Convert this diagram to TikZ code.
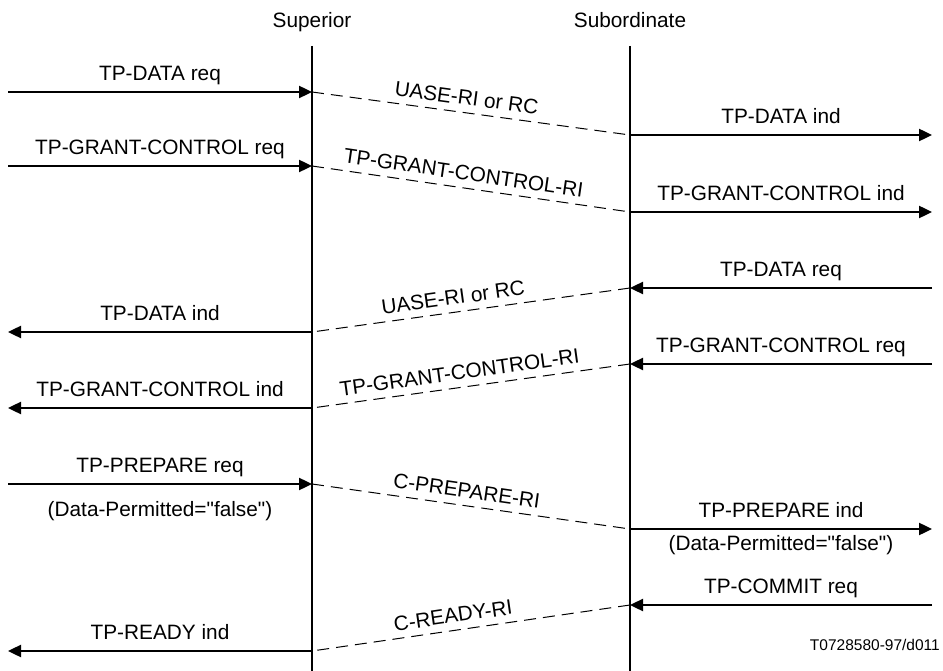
\documentclass[tikz,border=0pt]{standalone}
\usepackage{fontspec}
\setmainfont{Liberation Sans}
\usetikzlibrary{arrows.meta}

\begin{document}
\begin{tikzpicture}[x=1pt,y=-1pt,
  lifeline/.style={line width=1.6pt},
  prim/.style={line width=2.4pt,-{Triangle[length=13pt,width=12pt]}},
  pdu/.style={line width=1pt,dash pattern=on 12pt off 7pt},
  lbl/.style={font=\fontsize{20.8}{24}\selectfont,text height=15pt,text depth=4.5pt,inner sep=5.5pt},
  pdulbl/.style={font=\fontsize{20.8}{24}\selectfont,inner sep=3pt,sloped,above=4pt}]
  \useasboundingbox (0,0) rectangle (943,671);

  % Lifelines
  \node[lbl,anchor=base] (supHead) at (312,28) {Superior};
  \node[lbl,anchor=base] (subHead) at (630,28) {Subordinate};
  \coordinate (supTop) at (312,46);
  \coordinate (supBot) at (312,671);
  \coordinate (subTop) at (630,46);
  \coordinate (subBot) at (630,671);
  \draw[lifeline] (supTop) -- (supBot);
  \draw[lifeline] (subTop) -- (subBot);

  % Data from superior
  \coordinate (uL1) at (8,92);
  \coordinate (sup1) at (312,92);
  \coordinate (sub1) at (630,135);
  \coordinate (uR1) at (932,135);
  \draw[prim] (uL1) -- node[lbl,above] (req1) {TP-DATA req} (sup1);
  \draw[pdu] (sup1) -- node[pdulbl,pos=0.48] (pdu1) {UASE-RI or RC} (sub1);
  \draw[prim] (sub1) -- node[lbl,above] (ind1) {TP-DATA ind} (uR1);

  % Grant control from superior
  \coordinate (uL2) at (8,166);
  \coordinate (sup2) at (312,166);
  \coordinate (sub2) at (630,212);
  \coordinate (uR2) at (932,212);
  \draw[prim] (uL2) -- node[lbl,above] (req2) {TP-GRANT-CONTROL req} (sup2);
  \draw[pdu] (sup2) -- node[pdulbl,pos=0.47] (pdu2) {TP-GRANT-CONTROL-RI} (sub2);
  \draw[prim] (sub2) -- node[lbl,above] (ind2) {TP-GRANT-CONTROL ind} (uR2);

  % Data from subordinate
  \coordinate (uR3) at (932,288);
  \coordinate (sub3) at (630,288);
  \coordinate (sup3) at (312,332);
  \coordinate (uL3) at (8,332);
  \draw[prim] (uR3) -- node[lbl,above] (req3) {TP-DATA req} (sub3);
  \draw[pdu] (sub3) -- node[pdulbl,pos=0.55] (pdu3) {UASE-RI or RC} (sup3);
  \draw[prim] (sup3) -- node[lbl,above] (ind3) {TP-DATA ind} (uL3);

  % Grant control from subordinate
  \coordinate (uR4) at (932,364);
  \coordinate (sub4) at (630,364);
  \coordinate (sup4) at (312,408);
  \coordinate (uL4) at (8,408);
  \draw[prim] (uR4) -- node[lbl,above] (req4) {TP-GRANT-CONTROL req} (sub4);
  \draw[pdu] (sub4) -- node[pdulbl,pos=0.53] (pdu4) {TP-GRANT-CONTROL-RI} (sup4);
  \draw[prim] (sup4) -- node[lbl,above] (ind4) {TP-GRANT-CONTROL ind} (uL4);

  % Prepare
  \coordinate (uL5) at (8,484);
  \coordinate (sup5) at (312,484);
  \coordinate (sub5) at (630,529);
  \coordinate (uR5) at (932,529);
  \draw[prim] (uL5) -- node[lbl,above] (req5) {TP-PREPARE req}
    node[lbl,below=11pt] (par5) {(Data-Permitted=\textquotedbl false\textquotedbl)} (sup5);
  \draw[pdu] (sup5) -- node[pdulbl,pos=0.48] (pdu5) {C-PREPARE-RI} (sub5);
  \draw[prim] (sub5) -- node[lbl,above] (ind5) {TP-PREPARE ind}
    node[lbl,below] (par5b) {(Data-Permitted=\textquotedbl false\textquotedbl)} (uR5);

  % Commit / ready
  \coordinate (uR6) at (932,605);
  \coordinate (sub6) at (630,605);
  \coordinate (sup6) at (312,651);
  \coordinate (uL6) at (8,651);
  \draw[prim] (uR6) -- node[lbl,above] (req6) {TP-COMMIT req} (sub6);
  \draw[pdu] (sub6) -- node[pdulbl,pos=0.55] (pdu6) {C-READY-RI} (sup6);
  \draw[prim] (sup6) -- node[lbl,above] (ind6) {TP-READY ind} (uL6);

  \node[anchor=base east,font=\fontsize{15.5}{18}\selectfont,inner sep=0pt] (figId) at (940,650) {T0728580-97/d011};
\end{tikzpicture}
\end{document}
